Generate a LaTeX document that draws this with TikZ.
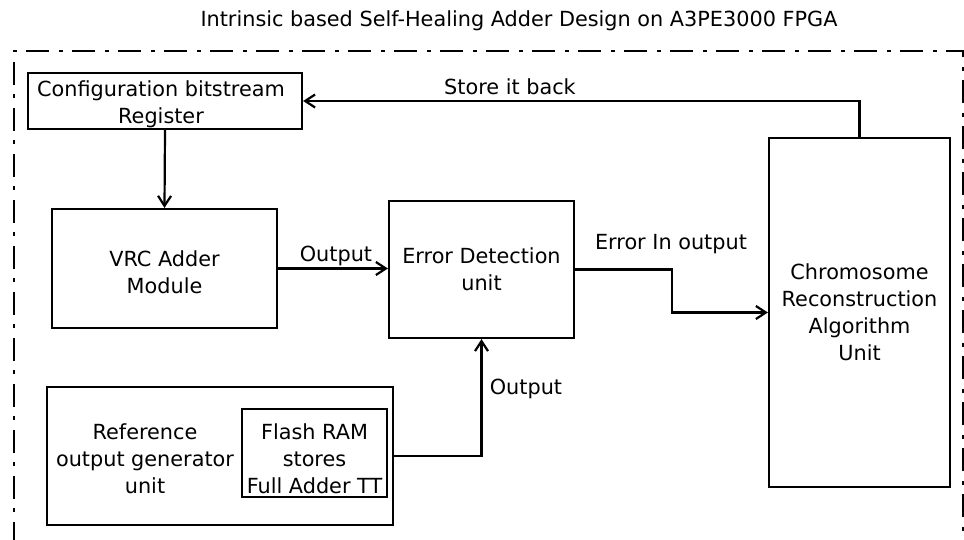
\documentclass[tikz,border=0pt]{standalone}
\usepackage{fontspec}
\setmainfont{DejaVu Sans}
\usepackage{tikz}
\usetikzlibrary{arrows.meta,positioning,calc}

\begin{document}
\begin{tikzpicture}[x=1pt, y=-1pt,
  font=\fontsize{20.8}{27}\selectfont,
  >={Straight Barb[length=10pt,width=13pt]},
  blk/.style={draw, line width=2.2pt, inner sep=0pt, align=center},
  lbl/.style={inner sep=0pt, align=center},
  wire/.style={line width=2.2pt},
]
\useasboundingbox (0,0) rectangle (964,540);

%% ---- title and FPGA boundary ----
\node[lbl, anchor=base] (title) at (519,27) {Intrinsic based Self-Healing Adder Design on A3PE3000 FPGA};
\draw[line width=2.2pt, dash pattern=on 23pt off 10pt on 4pt off 9pt]
  (14,545) -- (14,51) -- (963,51) -- (963,545);

%% ---- blocks ----
\node[blk, minimum width=274pt, minimum height=56pt] (reg) at (165,101) {};
\node[lbl] (regtext) at (161,104) {Configuration bitstream\\Register};
\node[blk, minimum width=225pt, minimum height=119pt] (vrc) at (164.5,268.5) {};
\node[lbl] (vrctext) at (164.5,272) {VRC Adder\\Module};
\node[blk, minimum width=185pt, minimum height=137pt] (ed) at (481.5,269.5)
  {Error Detection\\unit};
\node[blk, minimum width=181pt, minimum height=349pt] (chrom) at (859.5,312.5)
  {Chromosome\\Reconstruction\\Algorithm\\Unit};
\node[blk, minimum width=346pt, minimum height=138pt] (refgen) at (220,456) {};
\node[lbl] (reftext) at (145,459) {Reference\\output generator\\unit};
\node[blk, minimum width=145pt, minimum height=88pt] (flash) at (314.5,453) {};
\node[lbl] (flashtext) at (314.5,459) {Flash RAM\\stores\\Full Adder TT};

%% ---- connections ----
\draw[wire, ->] (reg.south) -- (vrc.north);
\draw[wire, ->] (vrc.east) -- (vrc.east -| ed.west);
\draw[wire, ->] (ed.east) -- ++(97,0) |- (chrom.west);
\draw[wire, ->] (chrom.north) |- (reg.east);
\draw[wire, ->] (refgen.east) -| (ed.south);

%% ---- wire labels ----
\node[lbl] (lout1) at (336,256) {Output};
\node[lbl] (lerr) at (671,244) {Error In output};
\node[lbl] (lstore) at (510,87) {Store it back};
\node[lbl] (lout2) at (526,389) {Output};
\end{tikzpicture}
\end{document}
